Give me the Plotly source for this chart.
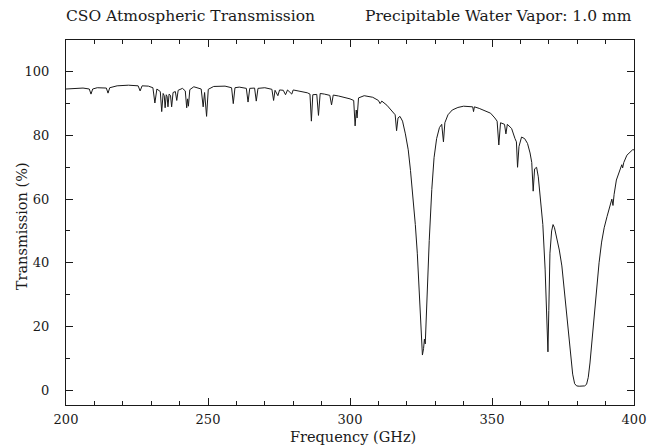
import plotly.graph_objects as go

# Frequency (GHz) and transmission (%)
freq = [
    200.0, 203.0, 206.0, 208.2, 208.8, 209.4, 211.0, 214.2, 214.8, 215.4,
    218.0, 222.0, 225.4, 226.1, 226.8, 229.0, 230.6, 231.3, 232.0, 233.2,
    233.7, 234.2, 234.6, 234.9, 235.3, 235.6, 235.9, 236.3, 236.8, 237.2,
    237.7, 238.5, 239.0, 239.5, 241.0, 242.0, 242.5, 242.8, 243.1, 243.6,
    245.0, 247.6, 248.3, 248.8, 249.5, 250.1, 252.0, 256.0, 258.3, 258.9,
    259.5, 261.0, 263.5, 264.1, 264.7, 266.4, 267.0, 267.6, 270.0, 272.5,
    273.1, 273.6, 274.6, 275.2, 276.5, 277.3, 278.0, 279.5, 280.0, 281.7,
    283.0, 285.0, 285.9, 286.4, 286.9, 288.3, 288.9, 289.5, 291.0, 292.9,
    293.5, 294.1, 296.0, 298.0, 300.0, 301.3, 301.8, 302.2, 302.5, 303.0,
    305.0, 308.0, 310.0, 310.6, 311.2, 313.0, 315.0, 315.9, 316.4, 316.9,
    317.6, 318.5, 319.5, 320.5, 321.3, 322.2, 323.0, 323.7, 324.4, 325.0,
    325.5, 325.9, 326.2, 326.5, 327.0, 327.9, 328.8, 329.6, 330.5, 331.5,
    332.3, 332.9, 333.4, 334.5, 336.0, 338.0, 340.0, 342.0, 343.2, 343.5,
    343.8, 345.5, 347.5, 349.5, 351.0, 351.8, 352.4, 353.0, 354.4, 354.9,
    355.4, 356.9, 358.1, 358.6, 359.0, 359.5, 360.4, 361.5, 362.5, 363.4,
    364.0, 364.5, 365.0, 365.7, 366.3, 367.0, 367.9, 368.7, 369.4, 369.7,
    370.0, 370.4, 371.0, 371.5, 372.0, 372.7, 373.7, 374.6, 375.6, 376.5,
    377.6, 378.4, 379.1, 379.8, 380.7, 381.6, 382.6, 383.3, 383.9, 384.5,
    385.2, 386.0, 386.8, 387.7, 388.6, 389.5, 390.5, 391.5, 392.2, 392.6,
    393.0, 393.8, 394.8, 395.7, 396.0, 396.4, 397.5, 398.5, 399.5, 400.0,
]
trans = [
    94.6, 94.7, 94.9, 94.6, 93.0, 94.6, 95.0, 94.9, 93.3, 95.0,
    95.6, 95.8, 95.6, 94.0, 95.6, 95.5, 95.0, 90.2, 94.6, 93.8,
    87.5, 93.2, 92.5, 88.7, 92.8, 92.3, 89.0, 93.0, 92.6, 89.0,
    93.5, 93.8, 91.0, 94.2, 94.8, 94.0, 88.7, 91.5, 89.2, 94.4,
    95.3, 94.6, 89.0, 93.5, 86.0, 94.5, 95.4, 95.5, 95.0, 90.0,
    95.0, 95.2, 94.8, 90.5, 94.8, 94.9, 90.8, 94.8, 95.0, 94.5,
    91.0, 94.2, 92.5, 94.3, 94.2, 92.8, 94.3, 93.0, 94.3, 94.0,
    93.8, 93.4, 93.0, 84.5, 92.8, 92.9, 86.3, 93.2, 93.0, 92.6,
    89.6, 92.7, 92.4, 92.0, 91.5, 91.0, 83.0, 88.0, 85.5, 91.8,
    92.5, 92.0, 91.0, 90.0, 90.8, 89.5, 87.5, 86.5, 81.5, 85.5,
    86.0, 84.5, 80.5, 75.5, 69.0, 61.0, 52.0, 43.0, 30.0, 18.0,
    11.0, 13.0, 16.0, 14.5, 27.0, 47.0, 63.0, 73.0, 79.0, 82.5,
    83.5, 78.0, 84.0, 86.5, 88.0, 88.8, 89.2, 89.2, 89.0, 87.5,
    89.0, 88.5, 87.8, 87.0, 85.5, 84.5, 77.0, 84.0, 83.5, 80.5,
    83.5, 82.2, 79.0, 78.0, 70.0, 76.5, 79.5, 79.0, 77.5, 74.5,
    71.5, 62.5, 69.5, 70.0, 67.0, 61.0, 52.0, 38.0, 20.0, 12.0,
    25.0, 43.0, 50.0, 52.0, 51.0, 48.5, 44.0, 39.0, 30.0, 22.0,
    11.0, 5.0, 2.0, 1.3, 1.2, 1.2, 1.3, 1.8, 4.0, 8.5,
    16.0, 24.0, 32.0, 40.0, 46.5, 51.0, 54.5, 57.5, 60.0, 58.0,
    61.5, 66.0, 68.5, 70.8, 69.8, 71.5, 73.8, 74.8, 75.5, 75.5,
]

x_ticks = [200, 250, 300, 350, 400]
x_tick_labels = ["200", "250", "300", "350", "400"]
y_ticks = [0, 20, 40, 60, 80, 100]
y_tick_labels = ["0", "20", "40", "60", "80", "100"]

FONT = "DejaVu Serif"
INK = "#1a1a1a"

fig = go.Figure()
fig.add_trace(go.Scatter(
    x=freq, y=trans, mode="lines",
    line=dict(color=INK, width=1), showlegend=False,
))

axis_common = dict(
    showline=True, linecolor=INK, linewidth=1, mirror="ticks",
    ticks="inside", ticklen=7, tickwidth=1, tickcolor=INK,
    showgrid=False, zeroline=False, automargin=False,
    tickfont=dict(family=FONT, size=13, color=INK),
)

fig.update_xaxes(
    range=[200, 400], tickvals=x_ticks, ticktext=x_tick_labels,
    minor=dict(dtick=10, ticklen=4, ticks="inside", tickcolor=INK, tickwidth=1),
    ticklabelstandoff=2,
    **axis_common,
)
fig.update_yaxes(
    range=[-4.7, 110.0], tickvals=y_ticks, ticktext=y_tick_labels,
    minor=dict(dtick=10, ticklen=4, ticks="inside", tickcolor=INK, tickwidth=1),
    ticklabelstandoff=13,
    **axis_common,
)

title_font = dict(family=FONT, size=15.5, color=INK)
fig.add_annotation(
    text="CSO Atmospheric Transmission", xref="paper", yref="paper",
    x=-0.004, y=1.066, xanchor="left", yanchor="middle", showarrow=False,
    font=title_font,
)
fig.add_annotation(
    text="Precipitable Water Vapor: 1.0 mm", xref="paper", yref="paper",
    x=1.0, y=1.066, xanchor="right", yanchor="middle", showarrow=False,
    font=title_font,
)
fig.add_annotation(
    text="Frequency (GHz)", xref="paper", yref="paper",
    x=0.505, y=-0.088, xanchor="center", yanchor="middle", showarrow=False,
    font=dict(family=FONT, size=14.5, color=INK),
)
fig.add_annotation(
    text="Transmission (%)", xref="paper", yref="paper",
    x=-0.0775, y=0.49, xanchor="center", yanchor="middle", showarrow=False,
    textangle=-90, font=dict(family=FONT, size=14.5, color=INK),
)

fig.update_layout(
    width=659, height=446,
    margin=dict(l=66, r=25, t=40, b=41),
    paper_bgcolor="white", plot_bgcolor="white",
)

fig.write_html("out.html")
